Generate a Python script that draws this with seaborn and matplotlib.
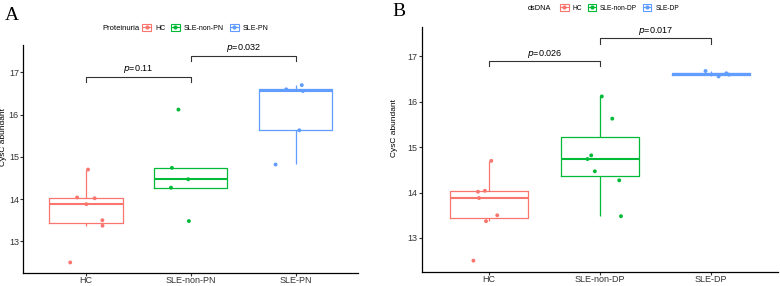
import numpy as np
import pandas as pd
import matplotlib.pyplot as plt
import seaborn as sns
from matplotlib.patches import Patch
from matplotlib.lines import Line2D
from matplotlib.legend_handler import HandlerTuple

np.random.seed(3)

# CysC values per group
hc = [14.70, 14.02, 14.04, 13.88, 13.50, 13.37, 12.50]
sle_non_pn = [16.12, 14.74, 14.47, 14.27, 13.48]
sle_pn = [16.70, 16.60, 16.56, 15.63, 14.82]
sle_non_dp = [16.12, 15.63, 14.82, 14.74, 14.47, 14.27, 13.48]
sle_dp = [16.56, 16.60, 16.63, 16.68]

groups_a = ["HC", "SLE-non-PN", "SLE-PN"]
groups_b = ["HC", "SLE-non-DP", "SLE-DP"]
pvals_a = ["0.11", "0.032"]
pvals_b = ["0.026", "0.017"]
colors = ["#F8766D", "#00BA38", "#619CFF"]

df_a = pd.DataFrame({"group": ["HC"] * len(hc) + ["SLE-non-PN"] * len(sle_non_pn) + ["SLE-PN"] * len(sle_pn),
                     "value": hc + sle_non_pn + sle_pn})
df_b = pd.DataFrame({"group": ["HC"] * len(hc) + ["SLE-non-DP"] * len(sle_non_dp) + ["SLE-DP"] * len(sle_dp),
                     "value": hc + sle_non_dp + sle_dp})

plt.rcParams['font.family'] = ['Liberation Sans', 'DejaVu Sans']

fig = plt.figure(figsize=(7.8, 2.86), dpi=100)
ax_a = fig.add_axes([0.0295, 1 - 273 / 286, 0.43, (273 - 45) / 286])
ax_b = fig.add_axes([0.541, 1 - 272 / 286, 0.456, (272 - 27) / 286])


def panel(ax, df, order, pvals, ylab_pos):
    sns.boxplot(data=df, x="group", y="value", hue="group", order=order, hue_order=order,
                palette=colors, fill=False, width=0.7, linewidth=0.9, showfliers=False,
                showcaps=False, medianprops={"linewidth": 1.5}, legend=False, ax=ax)
    sns.stripplot(data=df, x="group", y="value", hue="group", order=order, hue_order=order,
                  palette=colors, jitter=0.2, size=2.8, linewidth=0, legend=False, ax=ax)
    ax.set_xlim(-0.6, 2.6)
    ax.set_ylim(12.25, 17.65)
    ax.set_yticks([13, 14, 15, 16, 17])
    ax.set_xlabel("")
    ax.set_ylabel("CysC abundant", fontsize=6)
    ax.yaxis.set_label_coords(*ylab_pos)
    for s in ["top", "right"]:
        ax.spines[s].set_visible(False)
    for s in ["left", "bottom"]:
        ax.spines[s].set_linewidth(0.9)
    ax.tick_params(labelsize=6.5, length=2, width=0.8, colors="#333333", pad=1)
    ax.tick_params(axis="x", pad=0.5)
    # significance brackets
    for (x0, x1), y, p in zip([(0, 1), (1, 2)], [16.9, 17.4], pvals):
        ax.plot([x0, x0, x1, x1], [y - 0.12, y, y, y - 0.12], color="#333333", lw=0.8)
        ax.text((x0 + x1) / 2, y + 0.03, "$p$=" + p, ha="center", va="bottom", fontsize=6.5)


def legend(title, order, tx, ty, lx, fs):
    fig.text(tx, ty, title, fontsize=fs + 0.5, va="center", ha="left")
    handles = [(Patch(facecolor="none", edgecolor=c, lw=0.8),
                Line2D([], [], color=c, marker="o", markersize=2, lw=0.8)) for c in colors]
    fig.legend(handles, order, handler_map={tuple: HandlerTuple(ndivide=1, pad=0)},
               loc="center left", bbox_to_anchor=(lx, ty), ncol=3, frameon=False,
               fontsize=fs, handlelength=1.3, handleheight=1.2, handletextpad=0.6,
               columnspacing=0.8, borderpad=0, borderaxespad=0)


panel(ax_a, df_a, groups_a, pvals_a, (-0.047, 0.598))
panel(ax_b, df_b, groups_b, pvals_b, (-0.068, 0.588))

legend("Proteinuria", groups_a, 102 / 780, 1 - 28 / 286, 142 / 780, 5)
legend("dsDNA", groups_b, 528 / 780, 1 - 8 / 286, 560 / 780, 4.8)

fig.text(0.006, 0.975, "A", fontsize=14, family="Liberation Serif", va="top")
fig.text(0.503, 0.99, "B", fontsize=14, family="Liberation Serif", va="top")

fig.savefig("out.png", dpi=100)
